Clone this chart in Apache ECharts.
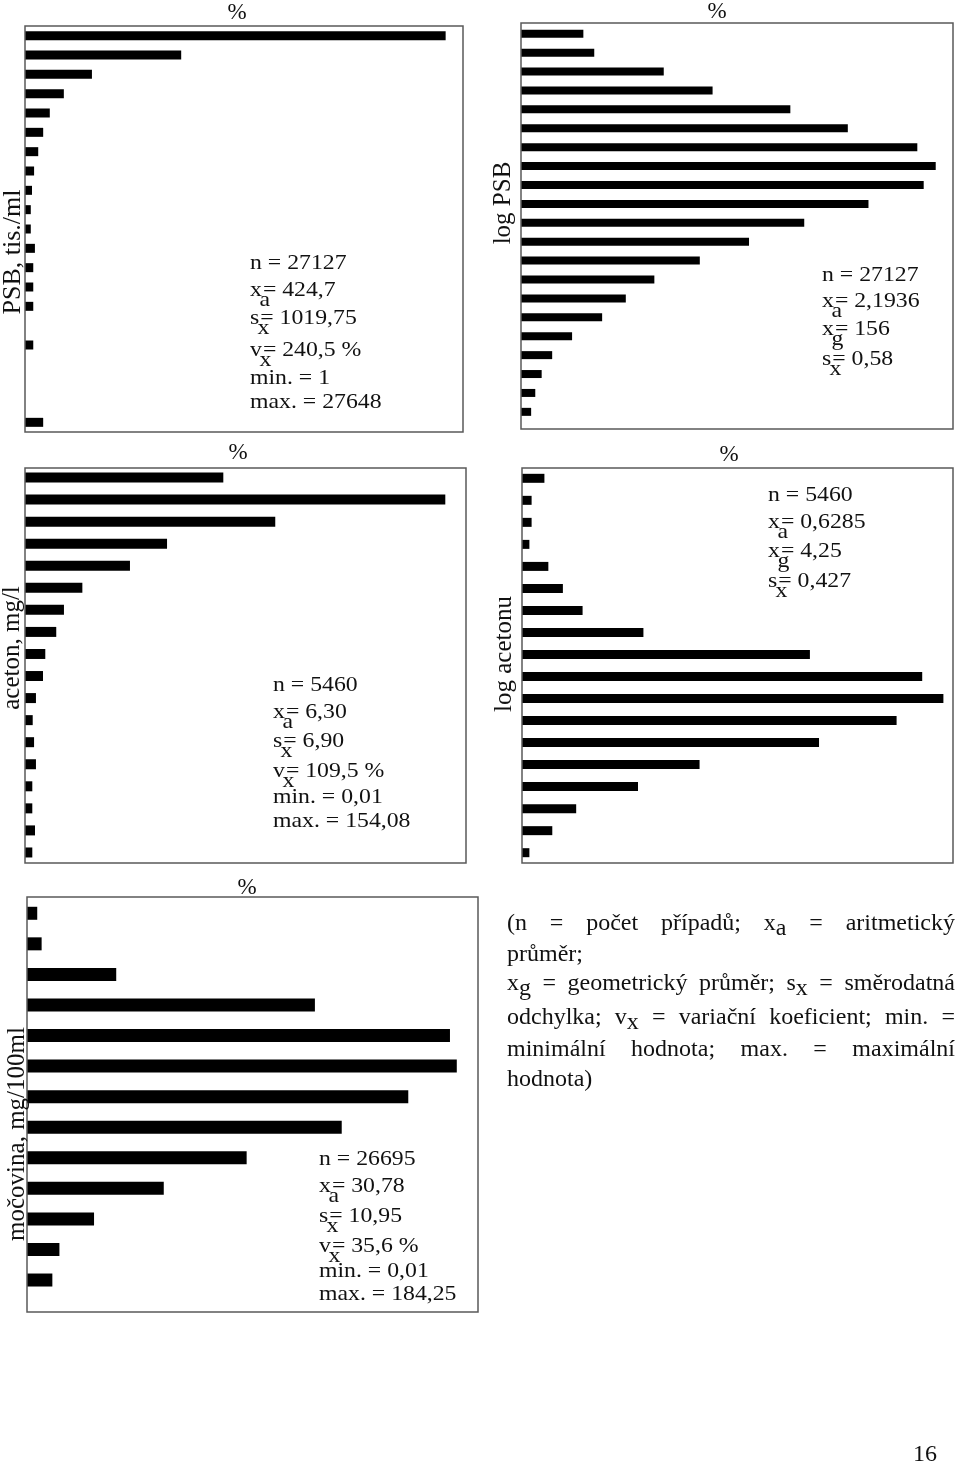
<!DOCTYPE html>
<html>
<head>
<meta charset="utf-8">
<style>
html,body{margin:0;padding:0;background:#fff;}
#chart{width:960px;height:1466px;}
</style>
<script src="https://cdn.jsdelivr.net/npm/echarts@6/dist/echarts.min.js"></script>
</head>
<body>
<div id="chart"></div>
<script>
// ---------------- DATA (percent of cases per class) ----------------
const psbBins = ['1','2','3','4','5','6','7','8','9','10','11','12','13','14','15','16','17','18','19','20','21'];
const psbValues = [50.9, 18.9, 8.1, 4.7, 3.0, 2.2, 1.6, 1.1, 0.85, 0.7, 0.7, 1.2, 1.0, 1.0, 1.0, 0, 1.0, 0, 0, 0, 2.2];

const logPsbBins = ['1','2','3','4','5','6','7','8','9','10','11','12','13','14','15','16','17','18','19','20','21'];
const logPsbValues = [1.66, 1.95, 3.80, 5.10, 7.17, 8.70, 10.55, 11.04, 10.72, 9.25, 7.54, 6.07, 4.76, 3.55, 2.79, 2.16, 1.36, 0.83, 0.55, 0.38, 0.27];

const acetonBins = ['1','2','3','4','5','6','7','8','9','10','11','12','13','14','15','16','17','18'];
const acetonValues = [14.66, 31.07, 18.50, 10.50, 7.76, 4.24, 2.88, 2.31, 1.50, 1.33, 0.81, 0.57, 0.67, 0.81, 0.54, 0.54, 0.74, 0.54];

const logAcetonBins = ['1','2','3','4','5','6','7','8','9','10','11','12','13','14','15','16','17','18'];
const logAcetonValues = [0.91, 0.39, 0.39, 0.30, 1.07, 1.66, 2.46, 4.93, 11.69, 16.25, 17.11, 15.21, 12.06, 7.21, 4.71, 2.20, 1.23, 0.30];

const mocovinaBins = ['1','2','3','4','5','6','7','8','9','10','11','12','13'];
const mocovinaValues = [0.42, 0.60, 3.66, 11.81, 17.35, 17.63, 15.64, 12.91, 9.01, 5.61, 2.75, 1.33, 1.04];

const axisTitles = ['PSB, tis./ml', 'log PSB', 'aceton, mg/l', 'log acetonu', 'močovina, mg/100ml'];
const percentLabel = '%';

// stats lines: [text] or [base, subscript, rest]
const psbStats = [['n = 27127'], ['x','a','= 424,7'], ['s','x','= 1019,75'], ['v','x','= 240,5 %'], ['min. = 1'], ['max. = 27648']];
const logPsbStats = [['n = 27127'], ['x','a','= 2,1936'], ['x','g','= 156'], ['s','x','= 0,58']];
const acetonStats = [['n = 5460'], ['x','a','= 6,30'], ['s','x','= 6,90'], ['v','x','= 109,5 %'], ['min. = 0,01'], ['max. = 154,08']];
const logAcetonStats = [['n = 5460'], ['x','a','= 0,6285'], ['x','g','= 4,25'], ['s','x','= 0,427']];
const mocovinaStats = [['n = 26695'], ['x','a','= 30,78'], ['s','x','= 10,95'], ['v','x','= 35,6 %'], ['min. = 0,01'], ['max. = 184,25']];

const legendLines = [
  ['(n', '=', 'počet', 'případů;', 'x_a', '=', 'aritmetický'],
  ['průměr;'],
  ['x_g', '=', 'geometrický', 'průměr;', 's_x', '=', 'směrodatná'],
  ['odchylka;', 'v_x', '=', 'variační', 'koeficient;', 'min.', '='],
  ['minimální', 'hodnota;', 'max.', '=', 'maximální'],
  ['hodnota)']
];
const legendJustify = [true, false, true, true, true, false];
const pageNumber = '16';

// ---------------- LAYOUT ----------------
const FONT = '"Liberation Serif", "Times New Roman", Times, serif';
const panels = [
  {cats: psbBins, vals: psbValues, max: 53, box: [25, 26, 438, 406], grid: [26, 406], barW: 9,
   title: [13, 252, 26], pct: [237, 13], stats: psbStats, sx: 250, sy: [263, 290, 318, 350, 378, 402]},
  {cats: logPsbBins, vals: logPsbValues, max: 11.5, box: [521, 23, 432, 406], grid: [24.3, 397], barW: 8,
   title: [503, 203, 25], pct: [717, 12], stats: logPsbStats, sx: 822, sy: [275, 301, 329, 359]},
  {cats: acetonBins, vals: acetonValues, max: 32.6, box: [25, 468, 441, 395], grid: [466.5, 397], barW: 10,
   title: [12, 648, 25], pct: [238, 453], stats: acetonStats, sx: 273, sy: [685, 712, 741, 771, 797, 821]},
  {cats: logAcetonBins, vals: logAcetonValues, max: 17.5, box: [522, 468, 431, 395], grid: [467.3, 396.4], barW: 9,
   title: [504, 654, 25], pct: [729, 455], stats: logAcetonStats, sx: 768, sy: [495, 522, 551, 581]},
  {cats: mocovinaBins, vals: mocovinaValues, max: 18.5, box: [27, 897, 451, 415], grid: [898, 397.3], barW: 13,
   title: [17, 1134, 25], pct: [247, 888], stats: mocovinaStats, sx: 319, sy: [1159, 1186, 1216, 1246, 1271, 1294]}
];

const STAT_SIZE = 22, STAT_SX = 1.08;
const LEG_SIZE = 24;

const ctx = document.createElement('canvas').getContext('2d');
function measure(t, size) { ctx.font = size + 'px ' + FONT; return ctx.measureText(t).width; }
function txt(t, x, y, size, extra) {
  const el = {type: 'text', x: x, y: y, silent: true, z: 10,
    style: {text: t, fontFamily: FONT, fontSize: size, fill: '#111', align: 'left', verticalAlign: 'middle'}};
  if (extra) Object.assign(el, extra);
  return el;
}

const graphics = [];
const grids = [], xAxes = [], yAxes = [], series = [];

panels.forEach((p, i) => {
  const [bx, by, bw, bh] = p.box;
  grids.push({left: bx, top: p.grid[0], width: bw, height: p.grid[1], containLabel: false});
  xAxes.push({type: 'value', gridIndex: i, min: 0, max: p.max, show: false});
  yAxes.push({type: 'category', gridIndex: i, data: p.cats, inverse: true, show: false});
  series.push({type: 'bar', xAxisIndex: i, yAxisIndex: i, data: p.vals, barWidth: p.barW,
    itemStyle: {color: '#000'}, silent: true});
  graphics.push({type: 'rect', shape: {x: bx, y: by, width: bw, height: bh}, silent: true, z: 5,
    style: {fill: 'none', stroke: '#5a5a5a', lineWidth: 1.5}});
  graphics.push(txt(axisTitles[i], p.title[0], p.title[1], p.title[2],
    {rotation: Math.PI / 2, style: {text: axisTitles[i], fontFamily: FONT, fontSize: p.title[2], fill: '#111', align: 'center', verticalAlign: 'middle'}}));
  graphics.push(txt(percentLabel, p.pct[0], p.pct[1], 23,
    {style: {text: percentLabel, fontFamily: FONT, fontSize: 23, fill: '#111', align: 'center', verticalAlign: 'middle'}}));
  p.stats.forEach((ln, k) => {
    const y = p.sy[k];
    const sc = {scaleX: STAT_SX};
    if (ln.length === 1) {
      graphics.push(txt(ln[0], p.sx, y, STAT_SIZE, sc));
    } else {
      const w = measure(ln[0], STAT_SIZE) * STAT_SX;
      graphics.push(txt(ln[0], p.sx, y, STAT_SIZE, sc));
      graphics.push(txt(ln[1], p.sx + w * 0.8, y + 10, STAT_SIZE, sc));
      graphics.push(txt(ln[2], p.sx + w + 1, y, STAT_SIZE, sc));
    }
  });
});

// legend paragraph (justified)
const LEG_LEFT = 507, LEG_RIGHT = 955;
const LEG_Y = [924, 955, 984, 1018, 1050, 1080];
legendLines.forEach((words, li) => {
  const parts = words.map(w => {
    const idx = w.indexOf('_');
    if (idx < 0) return {base: w, sub: ''};
    return {base: w.slice(0, idx), sub: w.slice(idx + 1)};
  });
  const widths = parts.map(p => measure(p.base, LEG_SIZE) + (p.sub ? measure(p.sub, LEG_SIZE) : 0));
  const total = widths.reduce((a, b) => a + b, 0);
  const space = measure(' ', LEG_SIZE);
  const gap = (legendJustify[li] && parts.length > 1) ? (LEG_RIGHT - LEG_LEFT - total) / (parts.length - 1) : space;
  let x = LEG_LEFT;
  const y = LEG_Y[li];
  parts.forEach((p, k) => {
    graphics.push(txt(p.base, x, y, LEG_SIZE));
    if (p.sub) {
      graphics.push(txt(p.sub, x + measure(p.base, LEG_SIZE), y + 5, LEG_SIZE));
    }
    x += widths[k] + gap;
  });
});

graphics.push(txt(pageNumber, 925, 1455, 24,
  {style: {text: pageNumber, fontFamily: FONT, fontSize: 24, fill: '#111', align: 'center', verticalAlign: 'middle'}}));

const chart = echarts.init(document.getElementById('chart'), null, {renderer: 'canvas'});
chart.setOption({
  animation: false,
  backgroundColor: '#fff',
  grid: grids,
  xAxis: xAxes,
  yAxis: yAxes,
  series: series,
  graphic: graphics
});
</script>
</body>
</html>
